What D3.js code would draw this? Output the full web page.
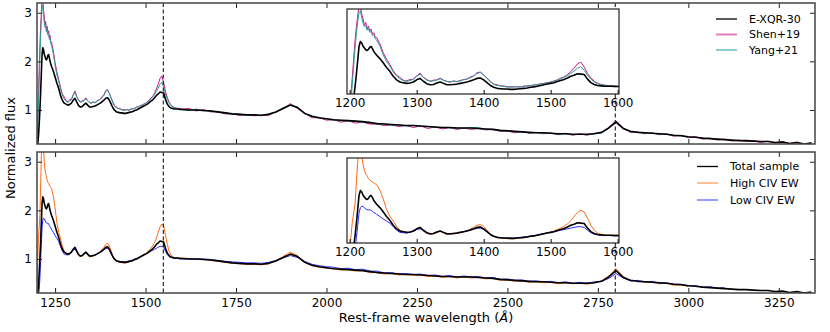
<!DOCTYPE html>
<html>
<head>
<meta charset="utf-8">
<script src="https://cdn.jsdelivr.net/npm/d3@7"></script>
<style>
body { margin: 0; background: #fff; }
svg text { font-family: "DejaVu Sans", sans-serif; fill: #000; }
</style>
</head>
<body>
<div id="chart"></div>
<script>
// rest-frame wavelength grid (Angstrom)
var wave = [
  1200, 1202, 1204, 1206, 1208, 1210, 1212, 1214, 1216, 1218, 1220,
  1222, 1224, 1226, 1228, 1230, 1232, 1234, 1236, 1238, 1240,
  1245, 1250, 1255, 1260, 1265, 1270, 1275, 1280, 1285, 1290, 1295, 1300,
  1305, 1310, 1315, 1320, 1325, 1330, 1335, 1340, 1345, 1350, 1355, 1360,
  1365, 1370, 1375, 1380, 1385, 1390, 1395, 1400, 1405, 1410, 1415, 1420,
  1425, 1430, 1435, 1440, 1445, 1450, 1455, 1460, 1465, 1470, 1475, 1480,
  1485, 1490, 1495, 1500, 1505, 1510, 1515, 1520, 1525, 1530, 1535, 1540,
  1545, 1550, 1555, 1560, 1565, 1570, 1575, 1580, 1585, 1590, 1595, 1600,
  1620, 1640, 1660, 1680, 1700, 1720, 1740, 1760, 1780, 1800,
  1820, 1840, 1860, 1880, 1900, 1920, 1940, 1960, 1980, 2000,
  2020, 2040, 2060, 2080, 2100, 2120, 2140, 2160, 2180, 2200,
  2220, 2240, 2260, 2280, 2300, 2320, 2340, 2360, 2380, 2400,
  2420, 2440, 2460, 2480, 2500, 2520, 2540, 2560, 2580, 2600,
  2620, 2640, 2660, 2680, 2700, 2720, 2740, 2760, 2780, 2800,
  2820, 2840, 2860, 2880, 2900, 2920, 2940, 2960, 2980, 3000,
  3020, 3040, 3060, 3080, 3100, 3120, 3140, 3160, 3180, 3200,
  3220, 3240, 3260, 3280, 3300, 3320, 3340
];

// E-XQR-30 composite (same curve is the "Total sample" of the lower panel)
var exqr30 = [
  0.25, 0.30, 0.45, 0.70, 1.00, 1.35, 1.75, 2.15, 2.28, 2.24, 2.15,
  2.10, 2.05, 2.03, 2.06, 2.12, 2.14, 2.08, 2.00, 1.95, 1.90,
  1.80, 1.68, 1.55, 1.44, 1.30, 1.20, 1.14, 1.12, 1.10, 1.11, 1.14, 1.20,
  1.24, 1.16, 1.09, 1.06, 1.07, 1.11, 1.14, 1.10, 1.06, 1.06, 1.07, 1.08,
  1.10, 1.12, 1.14, 1.17, 1.20, 1.24, 1.25, 1.20, 1.12, 1.04, 0.99, 0.96,
  0.95, 0.94, 0.94, 0.93, 0.93, 0.94, 0.95, 0.96, 0.97, 0.99, 1.00, 1.02,
  1.04, 1.06, 1.08, 1.10, 1.12, 1.15, 1.18, 1.21, 1.25, 1.30, 1.33, 1.37,
  1.36, 1.35, 1.22, 1.12, 1.07, 1.04, 1.03, 1.02, 1.02, 1.02, 1.01, 1.01,
  1.00, 1.00, 0.99, 0.98, 0.96, 0.94, 0.92, 0.91, 0.90, 0.90,
  0.89, 0.91, 0.96, 1.03, 1.10, 1.05, 0.93, 0.87, 0.84, 0.82,
  0.80, 0.79, 0.78, 0.77, 0.76, 0.74, 0.72, 0.71, 0.70, 0.69,
  0.68, 0.68, 0.67, 0.66, 0.65, 0.64, 0.64, 0.63, 0.63, 0.63,
  0.62, 0.61, 0.60, 0.58, 0.57, 0.56, 0.55, 0.54, 0.53, 0.53,
  0.52, 0.51, 0.51, 0.50, 0.50, 0.50, 0.51, 0.54, 0.63, 0.76,
  0.62, 0.56, 0.54, 0.53, 0.52, 0.51, 0.50, 0.48, 0.47, 0.45,
  0.44, 0.42, 0.41, 0.40, 0.39, 0.38, 0.37, 0.37, 0.36, 0.35,
  0.35, 0.33, 0.34, 0.31, 0.33, 0.30, 0.32
];

var shen19 = [
  0.40, 0.80, 1.30, 1.80, 2.30, 2.70, 3.00, 3.30, 3.25, 3.05, 2.92,
  2.74, 2.82, 2.64, 2.72, 2.58, 2.63, 2.49, 2.53, 2.41, 2.40,
  2.22, 1.97, 1.78, 1.63, 1.46, 1.33, 1.27, 1.19, 1.17, 1.21, 1.22, 1.31,
  1.39, 1.27, 1.21, 1.16, 1.19, 1.20, 1.25, 1.19, 1.16, 1.13, 1.17, 1.15,
  1.18, 1.21, 1.22, 1.28, 1.31, 1.40, 1.42, 1.34, 1.25, 1.16, 1.08, 1.06,
  1.03, 1.03, 1.00, 1.01, 1.00, 1.01, 0.99, 1.02, 1.03, 1.03, 1.06, 1.06,
  1.09, 1.10, 1.12, 1.14, 1.17, 1.20, 1.25, 1.28, 1.35, 1.43, 1.53, 1.65,
  1.70, 1.56, 1.38, 1.26, 1.16, 1.11, 1.07, 1.05, 1.04, 1.03, 1.03, 1.02,
  1.03, 0.98, 1.01, 0.96, 0.96, 0.92, 0.92, 0.89, 0.90, 0.88,
  0.89, 0.89, 0.96, 1.03, 1.13, 1.03, 0.93, 0.84, 0.84, 0.79,
  0.80, 0.75, 0.78, 0.73, 0.75, 0.71, 0.71, 0.68, 0.69, 0.66,
  0.68, 0.64, 0.67, 0.62, 0.65, 0.61, 0.64, 0.60, 0.63, 0.60,
  0.62, 0.59, 0.60, 0.56, 0.57, 0.53, 0.56, 0.52, 0.54, 0.51,
  0.53, 0.49, 0.52, 0.48, 0.51, 0.48, 0.52, 0.53, 0.63, 0.73,
  0.62, 0.54, 0.55, 0.51, 0.53, 0.49, 0.51, 0.46, 0.48, 0.43,
  0.45, 0.40, 0.42, 0.38, 0.40, 0.36, 0.38, 0.35, 0.37, 0.33,
  0.36, 0.32, 0.35, 0.31, 0.34, 0.29, 0.33
];

var yang21 = [
  0.30, 0.60, 1.10, 1.60, 2.10, 2.50, 2.85, 3.10, 3.15, 2.95, 2.80,
  2.70, 2.74, 2.60, 2.65, 2.54, 2.57, 2.45, 2.47, 2.36, 2.33,
  2.16, 1.91, 1.72, 1.59, 1.42, 1.31, 1.23, 1.18, 1.15, 1.18, 1.21, 1.30,
  1.36, 1.27, 1.19, 1.16, 1.17, 1.19, 1.23, 1.19, 1.15, 1.15, 1.16, 1.15,
  1.17, 1.20, 1.22, 1.26, 1.30, 1.38, 1.41, 1.34, 1.24, 1.14, 1.07, 1.04,
  1.03, 1.01, 1.00, 0.99, 1.00, 1.00, 1.01, 1.02, 1.02, 1.04, 1.05, 1.07,
  1.08, 1.10, 1.12, 1.13, 1.16, 1.19, 1.23, 1.27, 1.32, 1.38, 1.45, 1.53,
  1.57, 1.47, 1.33, 1.22, 1.14, 1.09, 1.06, 1.05, 1.03, 1.03, 1.02, 1.01,
  0.99, 1.02, 0.98, 0.99, 0.95, 0.95, 0.91, 0.92, 0.89, 0.90,
  0.88, 0.92, 0.95, 1.05, 1.10, 1.06, 0.92, 0.87, 0.83, 0.82,
  0.79, 0.79, 0.77, 0.77, 0.74, 0.75, 0.70, 0.72, 0.68, 0.70,
  0.67, 0.68, 0.66, 0.66, 0.64, 0.64, 0.63, 0.63, 0.62, 0.64,
  0.64, 0.60, 0.60, 0.57, 0.58, 0.55, 0.55, 0.53, 0.53, 0.52,
  0.52, 0.50, 0.51, 0.49, 0.50, 0.49, 0.51, 0.52, 0.63, 0.74,
  0.63, 0.55, 0.54, 0.52, 0.52, 0.50, 0.50, 0.47, 0.47, 0.44,
  null, null, null, null, null, null, null, null, null, null,
  null, null, null, null, null, null, null
];

var highCiv = [
  0.50, 1.00, 1.40, 1.65, 1.90, 2.50, 3.10, 3.50, 3.50, 3.30, 3.00,
  2.85, 2.75, 2.70, 2.62, 2.58, 2.55, 2.52, 2.50, 2.47, 2.45,
  2.30, 2.05, 1.75, 1.55, 1.42, 1.27, 1.16, 1.12, 1.10, 1.10, 1.14, 1.20,
  1.24, 1.14, 1.07, 1.05, 1.06, 1.09, 1.13, 1.08, 1.04, 1.05, 1.06, 1.07,
  1.09, 1.12, 1.15, 1.19, 1.24, 1.30, 1.32, 1.27, 1.16, 1.05, 0.99, 0.96,
  0.94, 0.93, 0.92, 0.92, 0.92, 0.93, 0.94, 0.95, 0.97, 0.99, 1.00, 1.02,
  1.04, 1.06, 1.09, 1.11, 1.14, 1.18, 1.22, 1.27, 1.34, 1.43, 1.55, 1.66,
  1.72, 1.68, 1.50, 1.30, 1.16, 1.08, 1.05, 1.03, 1.02, 1.02, 1.02, 1.02,
  1.01, 1.00, 0.99, 0.97, 0.95, 0.93, 0.91, 0.90, 0.89, 0.89,
  0.88, 0.90, 0.96, 1.05, 1.14, 1.07, 0.93, 0.86, 0.83, 0.81,
  0.80, 0.77, 0.78, 0.75, 0.76, 0.72, 0.72, 0.69, 0.70, 0.67,
  0.68, 0.66, 0.67, 0.64, 0.65, 0.62, 0.64, 0.61, 0.63, 0.61,
  0.62, 0.59, 0.60, 0.56, 0.57, 0.54, 0.55, 0.52, 0.53, 0.51,
  0.52, 0.49, 0.51, 0.49, 0.50, 0.48, 0.51, 0.55, 0.65, 0.80,
  0.64, 0.56, 0.55, 0.52, 0.52, 0.49, 0.50, 0.46, 0.47, 0.43,
  null, null, null, null, null, null, null, null, null, null,
  null, null, null, null, null, null, null
];

var lowCiv = [
  0.20, 0.20, 0.25, 0.35, 0.60, 0.95, 1.30, 1.65, 1.80, 1.84, 1.83,
  1.80, 1.76, 1.74, 1.73, 1.74, 1.72, 1.69, 1.66, 1.64, 1.61,
  1.55, 1.48, 1.42, 1.36, 1.26, 1.16, 1.10, 1.09, 1.08, 1.10, 1.13, 1.18,
  1.20, 1.15, 1.09, 1.06, 1.07, 1.10, 1.14, 1.10, 1.06, 1.06, 1.07, 1.08,
  1.10, 1.12, 1.14, 1.16, 1.19, 1.21, 1.22, 1.18, 1.11, 1.04, 0.99, 0.96,
  0.95, 0.94, 0.94, 0.94, 0.94, 0.95, 0.96, 0.97, 0.98, 1.00, 1.01, 1.03,
  1.05, 1.07, 1.09, 1.10, 1.12, 1.14, 1.16, 1.18, 1.20, 1.22, 1.24, 1.26,
  1.26, 1.24, 1.16, 1.09, 1.05, 1.03, 1.02, 1.01, 1.01, 1.01, 1.00, 1.00,
  1.00, 1.00, 1.00, 0.99, 0.97, 0.95, 0.94, 0.93, 0.92, 0.92,
  0.91, 0.93, 0.97, 1.02, 1.07, 1.03, 0.95, 0.89, 0.86, 0.84,
  0.83, 0.80, 0.81, 0.78, 0.79, 0.75, 0.75, 0.71, 0.72, 0.69,
  0.70, 0.68, 0.69, 0.66, 0.67, 0.64, 0.66, 0.63, 0.65, 0.63,
  0.64, 0.61, 0.62, 0.58, 0.59, 0.56, 0.57, 0.54, 0.55, 0.53,
  0.54, 0.51, 0.53, 0.50, 0.52, 0.50, 0.53, 0.54, 0.60, 0.70,
  0.61, 0.55, 0.56, 0.53, 0.54, 0.50, 0.51, 0.48, 0.48, 0.45,
  0.45, 0.42, 0.43, 0.40, 0.41, null, null, null, null, null,
  null, null, null, null, null, null, null
];

var mainTicks = [1250, 1500, 1750, 2000, 2250, 2500, 2750, 3000, 3250];
var fluxTicks = [1, 2, 3];
var insetTicks = [1200, 1300, 1400, 1500, 1600];
var lineCentres = [1549, 2798];   // CIV and MgII
var topNames = ["E-XQR-30", "Shen+19", "Yang+21"];
var bottomNames = ["Total sample", "High CIV EW", "Low CIV EW"];


var width = 830;
var height = 332;

var svg = d3.select("#chart").append("svg")
    .attr("width", width)
    .attr("height", height);

var x = d3.scaleLinear().domain([1200, 3350]).range([37, 815]);
var xIn = d3.scaleLinear().domain([1196, 1602]).range([347, 619]);

var panels = [
    {y0: 3, y1: 144, inset: [9, 94], tickLabels: false,
     series: [
        {name: topNames[1], flux: shen19, color: "#c8188a", key: "#e27cba", w: 1},
        {name: topNames[2], flux: yang21, color: "#2f9c9c", key: "#8ad0d0", w: 1},
        {name: topNames[0], flux: exqr30, color: "#000", key: "#000", w: 1.6}
     ],
     legend: [2, 0, 1], legendY: [19, 34.5, 50], legendX: 716},
    {y0: 152, y1: 293, inset: [158, 243], tickLabels: true,
     series: [
        {name: bottomNames[1], flux: highCiv, color: "#ff6a14", key: "#ffbf99", w: 1},
        {name: bottomNames[2], flux: lowCiv, color: "#2b2bff", key: "#9a9aff", w: 1},
        {name: bottomNames[0], flux: exqr30, color: "#000", key: "#000", w: 1.6}
     ],
     legend: [2, 0, 1], legendY: [166.5, 183, 200], legendX: 697}
];

var idx = d3.range(wave.length);
var inIdx = idx.filter(function(i) { return wave[i] <= 1620; });

panels.forEach(function(p, k) {
    var y = d3.scaleLinear().domain([0.3, 3.2]).range([p.y1, p.y0]);
    var g = svg.append("g");

    g.append("clipPath").attr("id", "clip" + k)
        .append("rect")
        .attr("x", 37).attr("y", p.y0)
        .attr("width", 778).attr("height", p.y1 - p.y0);

    var plot = g.append("g").attr("clip-path", "url(#clip" + k + ")");

    p.series.forEach(function(s) {
        var line = d3.line()
            .defined(function(i) { return s.flux[i] != null; })
            .x(function(i) { return x(wave[i]); })
            .y(function(i) { return y(s.flux[i]); });
        plot.append("path")
            .attr("d", line(idx))
            .attr("fill", "none")
            .attr("stroke", s.color)
            .attr("stroke-width", s.w)
            .attr("stroke-linejoin", "round");
    });

    plot.selectAll(".emline")
        .data(lineCentres)
        .enter().append("line")
        .attr("x1", function(d) { return x(d); })
        .attr("x2", function(d) { return x(d); })
        .attr("y1", p.y0).attr("y2", p.y1)
        .attr("stroke", "#000")
        .attr("stroke-width", 1)
        .attr("stroke-dasharray", "4,2.5");

    // ticks, all pointing inwards
    g.append("g").attr("transform", "translate(0," + p.y1 + ")")
        .call(d3.axisBottom(x).tickValues(mainTicks).tickSizeInner(-5).tickSizeOuter(0).tickPadding(5)
            .tickFormat(p.tickLabels ? d3.format("d") : ""));
    g.append("g").attr("transform", "translate(0," + p.y0 + ")")
        .call(d3.axisTop(x).tickValues(mainTicks).tickSizeInner(-5).tickSizeOuter(0).tickFormat(""));
    g.append("g").attr("transform", "translate(37,0)")
        .call(d3.axisLeft(y).tickValues(fluxTicks).tickSizeInner(-5).tickSizeOuter(0).tickPadding(5)
            .tickFormat(d3.format("d")));
    g.append("g").attr("transform", "translate(815,0)")
        .call(d3.axisRight(y).tickValues(fluxTicks).tickSizeInner(-5).tickSizeOuter(0).tickFormat(""));

    g.selectAll(".domain").remove();
    g.selectAll(".tick line").attr("stroke", "#222");
    g.selectAll(".tick text").style("font-size", "12px").style("font-family", "DejaVu Sans");

    g.append("rect")
        .attr("x", 37).attr("y", p.y0)
        .attr("width", 778).attr("height", p.y1 - p.y0)
        .attr("fill", "none")
        .attr("stroke", "#444")
        .attr("stroke-width", 1.5);

    // legend
    p.legend.forEach(function(si, r) {
        var s = p.series[si];
        g.append("line")
            .attr("x1", p.legendX).attr("x2", p.legendX + 21)
            .attr("y1", p.legendY[r]).attr("y2", p.legendY[r])
            .attr("stroke", s.key)
            .attr("stroke-width", si === 2 ? 1.3 : 2);
        g.append("text")
            .attr("x", p.legendX + 33)
            .attr("y", p.legendY[r])
            .attr("dy", "0.35em")
            .style("font-size", "11px")
            .text(s.name);
    });

    // inset zoom on the 1200-1600 region
    var yIn = d3.scaleLinear().domain([0.8, 3.2]).range([p.inset[1], p.inset[0]]);
    var gi = g.append("g");
    gi.append("rect")
        .attr("x", 347).attr("y", p.inset[0])
        .attr("width", 272).attr("height", p.inset[1] - p.inset[0])
        .attr("fill", "#fff");
    gi.append("clipPath").attr("id", "iclip" + k)
        .append("rect")
        .attr("x", 347).attr("y", p.inset[0])
        .attr("width", 272).attr("height", p.inset[1] - p.inset[0]);
    var ip = gi.append("g").attr("clip-path", "url(#iclip" + k + ")");
    p.series.forEach(function(s) {
        var line = d3.line()
            .defined(function(i) { return s.flux[i] != null; })
            .x(function(i) { return xIn(wave[i]); })
            .y(function(i) { return yIn(s.flux[i]); });
        ip.append("path")
            .attr("d", line(inIdx))
            .attr("fill", "none")
            .attr("stroke", s.color)
            .attr("stroke-width", s.w)
            .attr("stroke-linejoin", "round");
    });
    gi.append("g").attr("transform", "translate(0," + p.inset[1] + ")")
        .call(d3.axisBottom(xIn).tickValues(insetTicks).tickSizeInner(-4).tickSizeOuter(0).tickPadding(4)
            .tickFormat(d3.format("d")));
    gi.selectAll(".domain").remove();
    gi.selectAll(".tick text").style("font-size", "12px").style("font-family", "DejaVu Sans");
    gi.append("rect")
        .attr("x", 347).attr("y", p.inset[0])
        .attr("width", 272).attr("height", p.inset[1] - p.inset[0])
        .attr("fill", "none")
        .attr("stroke", "#222")
        .attr("stroke-width", 1.2);
});

svg.append("text")
    .attr("transform", "translate(15,148) rotate(-90)")
    .attr("text-anchor", "middle")
    .style("font-size", "13px")
    .text("Normalized flux");

var xlab = svg.append("text")
    .attr("x", 426)
    .attr("y", 322)
    .attr("text-anchor", "middle")
    .style("font-size", "13px");
xlab.append("tspan").text("Rest-frame wavelength (");
xlab.append("tspan").style("font-style", "italic").text("Å");
xlab.append("tspan").text(")");
</script>
</body>
</html>
